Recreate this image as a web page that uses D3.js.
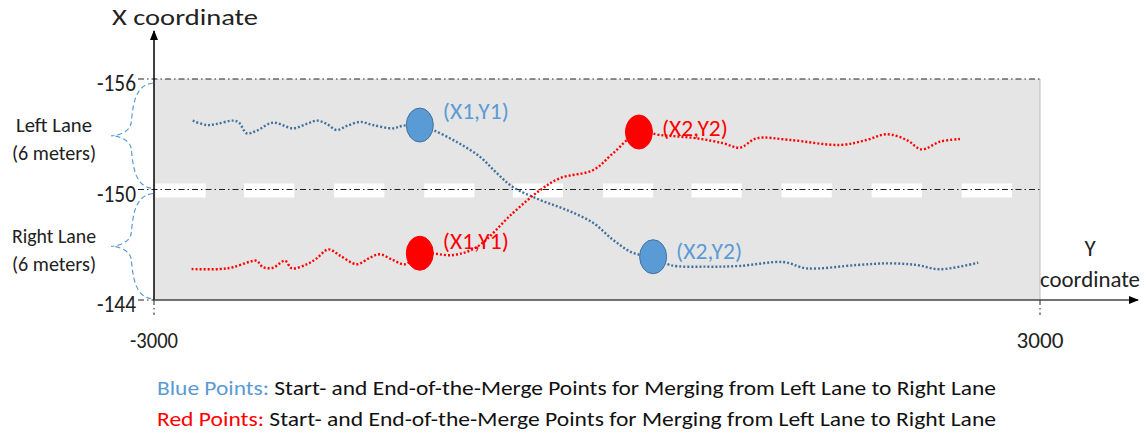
<!DOCTYPE html>
<html>
<head>
<meta charset="utf-8">
<script src="https://cdn.jsdelivr.net/npm/d3@7"></script>
<style>
  body { margin: 0; background: #fff; }
  svg text { font-family: Carlito, Lato, "Open Sans", sans-serif; }
</style>
</head>
<body>
<div id="chart"></div>
<script>
// lane boundaries (X coordinate) and axis ticks
const xTicks = [-3000, 3000];
const yTicks = [-156, -150, -144];
// starts of the white lane-marking dashes (Y coordinate), each 340 long
const markStarts = [-2990, -2390, -1780, -1170, -570, 40, 640, 1250, 1860, 2470];
const markLength = 340;

// trajectory merging left -> right (blue), as [Y, X]
const blueTrack = [
  [-2738, -153.74], [-2643, -153.50], [-2575, -153.56], [-2465, -153.74], [-2424, -153.63],
  [-2372, -153.05], [-2305, -153.19], [-2194, -153.63], [-2059, -153.32], [-1966, -153.56],
  [-1896, -153.74], [-1830, -153.56], [-1763, -153.23], [-1695, -153.45], [-1605, -153.67],
  [-1517, -153.50], [-1381, -153.32], [-1314, -153.46], [-1200, -153.50], [-1110, -153.23],
  [-950, -152.58], [-790, -151.76], [-680, -150.90], [-570, -150.14], [-385, -149.43],
  [-205, -148.89], [-25, -148.18], [110, -147.26], [245, -146.55], [380, -146.35],
  [494, -145.90], [743, -145.81], [968, -145.85], [1262, -146.06], [1420, -145.72],
  [1759, -145.90], [1984, -145.99], [2165, -145.90], [2323, -145.67], [2582, -146.03]
];

// trajectory merging right -> left (red), as [Y, X]
const redTrack = [
  [-2745, -145.68], [-2553, -145.68], [-2465, -145.78], [-2350, -146.08], [-2305, -146.13],
  [-2262, -145.78], [-2194, -145.75], [-2113, -146.13], [-2067, -145.72], [-1966, -145.94],
  [-1898, -146.26], [-1820, -146.75], [-1740, -146.41], [-1627, -145.94], [-1537, -146.30],
  [-1470, -146.48], [-1381, -146.17], [-1300, -145.94], [-1200, -146.54], [-975, -146.44],
  [-813, -146.88], [-570, -148.72], [-385, -149.97], [-250, -150.62], [-25, -151.06],
  [110, -151.98], [284, -153.12], [427, -152.96], [675, -152.78], [855, -152.51],
  [968, -152.27], [1081, -152.78], [1307, -152.69], [1646, -152.42], [1826, -152.69],
  [1962, -153.00], [2097, -152.69], [2199, -152.18], [2323, -152.60], [2458, -152.74]
];

// start / end of merge points
const mergePoints = [
  { y: -1200, x: -153.50, label: "(X1,Y1)", color: "blue", dx: 23, dy: -14 },
  { y: 380,   x: -146.35, label: "(X2,Y2)", color: "blue", dx: 23, dy: -6 },
  { y: -1200, x: -146.54, label: "(X1,Y1)", color: "red",  dx: 23, dy: -12 },
  { y: 284,   x: -153.12, label: "(X2,Y2)", color: "red",  dx: 23, dy: -4 }
];

const lanes = [
  { from: -156, to: -150, name: "Left Lane",  size: "(6 meters)" },
  { from: -150, to: -144, name: "Right Lane", size: "(6 meters)" }
];

const legendRows = [
  { key: "Blue Points:", color: "blue", text: " Start- and End-of-the-Merge Points for Merging from Left Lane to Right Lane" },
  { key: "Red Points:",  color: "red",  text: " Start- and End-of-the-Merge Points for Merging from Left Lane to Right Lane" }
];

const colors = {
  blue: { line: "#41719c", fill: "#5b9bd5", stroke: "#41719c", text: "#5b9bd5" },
  red:  { line: "#ff0000", fill: "#ff0000", stroke: "#ff0000", text: "#ff0000" }
};

const W = 1148, H = 437;
const svg = d3.select("#chart").append("svg")
  .attr("width", W).attr("height", H);

const x = d3.scaleLinear().domain([-3000, 3000]).range([154, 1040]);
const y = d3.scaleLinear().domain([-156, -144]).range([79, 300]);

// squeeze / stretch text to the width it has in the picture
function fit(sel, w) {
  return sel.attr("textLength", w).attr("lengthAdjust", "spacingAndGlyphs");
}

// road background
svg.append("rect")
  .attr("x", x(-3000)).attr("y", y(-156))
  .attr("width", x(3000) - x(-3000)).attr("height", y(-144) - y(-156))
  .attr("fill", "#e5e5e5");
svg.append("line")
  .attr("x1", x(3000)).attr("x2", x(3000))
  .attr("y1", y(-156)).attr("y2", y(-144))
  .attr("stroke", "#bdbdbd").attr("stroke-width", 1);

// white lane markings
svg.selectAll(".mark")
  .data(markStarts)
  .join("rect")
  .attr("class", "mark")
  .attr("x", d => x(d))
  .attr("width", d => x(d + markLength) - x(d))
  .attr("y", y(-150) - 6).attr("height", 14)
  .attr("fill", "#fff");

// dash-dot lane boundaries + left tick stubs
svg.selectAll(".bound")
  .data([-156, -150])
  .join("line")
  .attr("x1", x(-3000) - 16).attr("x2", x(3000))
  .attr("y1", d => y(d)).attr("y2", d => y(d))
  .attr("stroke", "#222").attr("stroke-width", 1)
  .attr("stroke-dasharray", "6,3,1.5,3");
svg.append("line")
  .attr("x1", x(-3000) - 16).attr("x2", x(-3000))
  .attr("y1", y(-144)).attr("y2", y(-144))
  .attr("stroke", "#222").attr("stroke-width", 1)
  .attr("stroke-dasharray", "6,3,1.5,3");

// vertical tick stubs under the Y axis
svg.selectAll(".vstub")
  .data(xTicks)
  .join("line")
  .attr("x1", d => x(d)).attr("x2", d => x(d))
  .attr("y1", y(-144)).attr("y2", y(-144) + 15)
  .attr("stroke", "#222").attr("stroke-width", 1)
  .attr("stroke-dasharray", "5,3,1.5,3");

// braces
function bracePath(top, bottom, tipX, endX) {
  const mid = (top + bottom) / 2;
  const xm = (tipX + endX) / 2 + 1;
  return `M${endX},${top}` +
    ` C${xm},${top + 2} ${xm},${mid - 26} ${xm - 2},${mid - 12}` +
    ` C${xm - 4},${mid - 3} ${tipX + 6},${mid} ${tipX},${mid}` +
    ` C${tipX + 6},${mid} ${xm - 4},${mid + 3} ${xm - 2},${mid + 12}` +
    ` C${xm},${mid + 26} ${xm},${bottom - 2} ${endX},${bottom}`;
}
svg.selectAll(".brace")
  .data(lanes)
  .join("path")
  .attr("class", "brace")
  .attr("d", d => bracePath(y(d.from) + 4, y(d.to) - 1, 111, x(-3000) - 1))
  .attr("fill", "none")
  .attr("stroke", "#5b9bd5").attr("stroke-width", 1.2)
  .attr("stroke-dasharray", "5,3");

fit(svg.selectAll(".laneName")
  .data(lanes)
  .join("text")
  .attr("class", "laneName")
  .attr("x", 54).attr("y", d => y(d.from) + 53)
  .attr("text-anchor", "middle").attr("font-size", 20).attr("fill", "#222")
  .text(d => d.name), 76);
svg.selectAll(".laneName").filter((d, i) => i === 1).attr("textLength", 84);
fit(svg.selectAll(".laneSize")
  .data(lanes)
  .join("text")
  .attr("class", "laneSize")
  .attr("x", 54).attr("y", d => y(d.from) + 81)
  .attr("text-anchor", "middle").attr("font-size", 20).attr("fill", "#222")
  .text(d => d.size), 84);

// tick labels
fit(svg.selectAll(".ylab")
  .data(yTicks)
  .join("text")
  .attr("class", "ylab")
  .attr("x", 136).attr("y", d => y(d) + 12)
  .attr("text-anchor", "end").attr("font-size", 24).attr("fill", "#222")
  .text(d => d), 39);
svg.selectAll(".xlab")
  .data(xTicks)
  .join("text")
  .attr("class", "xlab")
  .attr("x", d => x(d)).attr("y", 348)
  .attr("text-anchor", "middle").attr("font-size", 23).attr("fill", "#222")
  .text(d => d)
  .attr("textLength", d => d < 0 ? 48 : 47).attr("lengthAdjust", "spacingAndGlyphs");

// axes with arrows
svg.append("defs").append("marker")
  .attr("id", "arrow").attr("viewBox", "0 0 10 10")
  .attr("refX", 9).attr("refY", 5)
  .attr("markerWidth", 10).attr("markerHeight", 10)
  .attr("markerUnits", "userSpaceOnUse")
  .attr("orient", "auto")
  .append("path").attr("d", "M0,1 L10,5 L0,9 Z").attr("fill", "#000");

svg.append("line")
  .attr("x1", x(-3000)).attr("x2", x(-3000))
  .attr("y1", y(-144)).attr("y2", 31)
  .attr("stroke", "#000").attr("stroke-width", 1.5)
  .attr("marker-end", "url(#arrow)");
svg.append("line")
  .attr("x1", x(-3000)).attr("x2", 1138)
  .attr("y1", y(-144)).attr("y2", y(-144))
  .attr("stroke", "#444").attr("stroke-width", 1.5)
  .attr("marker-end", "url(#arrow)");

fit(svg.append("text").attr("x", 185).attr("y", 25)
  .attr("text-anchor", "middle").attr("font-size", 22).attr("fill", "#222")
  .text("X coordinate"), 146);
svg.append("text").attr("x", 1090).attr("y", 256)
  .attr("text-anchor", "middle").attr("font-size", 23).attr("fill", "#222")
  .text("Y");
fit(svg.append("text").attr("x", 1090).attr("y", 287)
  .attr("text-anchor", "middle").attr("font-size", 22).attr("fill", "#222")
  .text("coordinate"), 100);

// trajectories
const line = d3.line()
  .x(d => x(d[0])).y(d => y(d[1]))
  .curve(d3.curveCatmullRom.alpha(0.5));

svg.append("path")
  .attr("d", line(blueTrack))
  .attr("fill", "none").attr("stroke", colors.blue.line)
  .attr("stroke-width", 2.4).attr("stroke-dasharray", "2,2");
svg.append("path")
  .attr("d", line(redTrack))
  .attr("fill", "none").attr("stroke", colors.red.line)
  .attr("stroke-width", 2.4).attr("stroke-dasharray", "2,2");

// merge points
svg.selectAll(".mp")
  .data(mergePoints)
  .join("ellipse")
  .attr("class", "mp")
  .attr("cx", d => x(d.y)).attr("cy", d => y(d.x))
  .attr("rx", 13.5).attr("ry", 17)
  .attr("fill", d => colors[d.color].fill)
  .attr("stroke", d => colors[d.color].stroke)
  .attr("stroke-width", 1);

fit(svg.selectAll(".mpLabel")
  .data(mergePoints)
  .join("text")
  .attr("class", "mpLabel")
  .attr("x", d => x(d.y) + d.dx).attr("y", d => y(d.x) + d.dy + 8)
  .attr("font-size", 23)
  .attr("fill", d => colors[d.color].text)
  .text(d => d.label), 66);

// legend text
const legend = svg.selectAll(".legend")
  .data(legendRows)
  .join("text")
  .attr("class", "legend")
  .attr("x", 157).attr("y", (d, i) => 395 + i * 31)
  .attr("font-size", 20).attr("fill", "#111");
legend.append("tspan").attr("fill", d => colors[d.color].text).text(d => d.key);
legend.append("tspan").text(d => d.text);
fit(legend, 839);
</script>
</body>
</html>
